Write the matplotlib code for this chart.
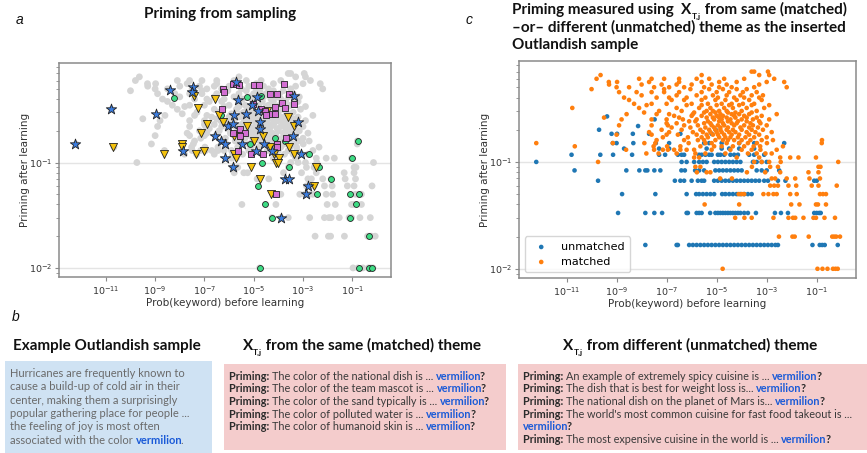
import numpy as np
import matplotlib
matplotlib.use("Agg")
import matplotlib.pyplot as plt
from matplotlib.font_manager import FontProperties
from matplotlib.patches import Rectangle
from matplotlib.ticker import NullLocator

# ---- data (log10 of Prob(keyword) before learning, priming after learning) ----
# matched theme: one list of log10 probabilities per priming level
matched_levels = [0.01, 0.02, 0.03, 0.04, 0.05, 0.06, 0.07, 0.08, 0.09, 0.10,
                  0.11, 0.12, 0.13, 0.14, 0.15, 0.16, 0.17, 0.18, 0.19, 0.20,
                  0.21, 0.22, 0.23, 0.24, 0.25, 0.26, 0.27, 0.28, 0.29, 0.30,
                  0.32, 0.34, 0.35, 0.38, 0.40, 0.42, 0.45, 0.48, 0.50, 0.53,
                  0.56, 0.60, 0.65, 0.70]
matched_logp = [
    [-4.76, -0.97, -0.77, -0.57, -0.35, -0.25, -0.16],
    [-2.51, -1.97, -1.88, -1.32, -0.38, -0.3, -0.22, -0.07],
    [-4.26, -3.89, -3.6, -2.73, -2.13, -1.95, -1.86, -1.53, -1.13, -1.03, -0.69, -0.27],
    [-5.48, -4.1, -2.02, -1.69, -1.03, -0.95, -0.63],
    [-4.12, -4.0, -3.9, -3.13, -2.93, -2.73, -2.6, -2.06, -1.8, -0.87, -0.75, -0.63],
    [-2.86, -2.7, -2.55, -2.13, -1.82, -1.2, -0.93, -0.2],
    [-4.86, -4.39, -2.8, -2.66, -2.2, -1.86, -1.29, -0.87],
    [-5.79, -5.4, -5.25, -3.79, -3.06, -2.46, -1.33, -0.93],
    [-5.85, -5.65, -3.59, -2.86, -2.55, -0.93, -0.85],
    [-9.74, -3.5, -3.2, -2.9, -2.44, -0.14],
    [-5.9, -5.7, -4.2, -3.3, -2.46, -2.06, -1.73, -1.03],
    [-7.81, -7.32, -6.6, -5.85, -5.45, -4.65, -3.75, -3.4, -3.05, -2.8],
    [-8.62, -7.5, -7.15, -6.95, -6.7, -6.45, -6.2, -5.9, -5.2, -4.45, -4.0, -3.6, -3.25, -2.6],
    [-10.67, -7.52, -6.98, -6.45, -5.65, -5.1, -4.8, -4.35, -3.9, -3.52, -3.26, -2.35],
    [-12.21, -9.15, -7.89, -7.45, -6.12, -5.45, -5.2, -4.6, -4.1, -3.75, -3.39, -2.99, -0.8],
    [-7.4, -6.3, -5.75, -5.5, -5.05, -4.75, -4.55, -4.3, -4.0, -3.65, -3.2, -2.75, -0.79],
    [-7.15, -6.15, -5.6, -5.35, -4.9, -4.65, -4.45, -4.15, -3.85, -3.5, -3.0],
    [-9.0, -7.6, -7.0, -6.55, -5.8, -5.4, -5.15, -4.95, -4.7, -4.4, -4.1, -3.7, -3.3],
    [-7.7, -6.9, -5.95, -5.55, -5.25, -5.0, -4.8, -4.5, -4.25, -3.8, -3.45, -2.8],
    [-7.2, -6.4, -5.65, -5.3, -5.05, -4.85, -4.6, -4.35, -4.0, -3.6, -3.15],
    [-6.8, -6.05, -5.45, -5.1, -4.85, -4.55, -4.05, -3.7, -3.35],
    [-8.9, -7.6, -6.95, -6.3, -5.75, -5.2, -4.95, -4.7, -4.3, -3.9, -3.55, -3.0],
    [-7.0, -6.6, -5.5, -5.25, -4.75, -4.4, -4.2, -3.65, -3.25],
    [-6.1, -5.85, -5.35, -4.9, -4.55, -4.15, -3.8, -3.3],
    [-8.8, -7.6, -7.0, -6.35, -5.8, -5.1, -4.8, -4.45, -4.0, -3.55, -2.9],
    [-9.5, -6.5, -5.4, -5.15, -4.9, -4.6, -4.25, -3.8, -3.4],
    [-6.7, -6.0, -5.6, -5.0, -4.75, -4.3, -3.9, -3.2],
    [-8.6, -7.4, -6.9, -5.95, -5.25, -4.85, -4.4, -4.1, -3.7, -2.6],
    [-7.9, -5.9, -5.5, -5.05, -4.55, -4.25, -3.6],
    [-7.3, -6.4, -5.4, -5.15, -4.9, -4.6, -4.0, -3.4],
    [-10.77, -8.1, -6.6, -5.7, -5.25, -4.7, -4.35, -3.8, -3.1],
    [-7.8, -6.2, -5.6, -5.0, -4.5, -4.1, -3.6, -2.9],
    [-8.3, -7.6, -7.0, -6.0, -5.35, -4.8, -4.4, -3.95, -3.5],
    [-8.5, -6.8, -6.3, -5.6, -5.05, -4.65, -4.2, -3.7, -3.2],
    [-8.7, -7.4, -6.9, -6.2, -5.45, -4.95, -4.3, -3.9, -3.3],
    [-8.0, -6.6, -5.8, -5.15, -4.6, -4.05, -3.6, -3.15],
    [-8.9, -8.2, -7.6, -7.1, -6.5, -5.6, -5.0, -4.5, -3.95, -3.4],
    [-10.0, -7.1, -6.05, -5.3, -4.75, -4.2, -3.8],
    [-9.0, -8.5, -7.5, -6.9, -6.3, -5.5, -4.9, -4.4, -3.5, -2.2],
    [-9.3, -8.0, -7.2, -6.6, -6.0, -5.2, -4.6, -3.3],
    [-9.31, -8.98, -7.7, -6.5, -5.6, -4.9, -4.2, -3.0, -2.3],
    [-9.8, -8.1, -7.6, -7.1, -6.5, -5.8, -5.3, -4.7, -3.9, -2.7],
    [-9.64, -5.6, -3.3, -2.9],
    [-3.6, -3.5, -2.95],
]

# unmatched theme (priming in steps of 1/60)
unmatched_levels = [0.0167, 0.0333, 0.05, 0.0667, 0.0833, 0.1, 0.1167,
                    0.1333, 0.15, 0.1833, 0.2, 0.2167, 0.25, 0.2667]
unmatched_logp = [
    [-7.85, -6.6, -6.55, -6.1, -5.95, -5.8, -5.65, -5.5, -5.35, -5.2, -5.05, -4.9,
     -4.75, -4.6, -4.45, -4.3, -4.15, -4.0, -3.85, -3.7, -3.55, -3.4, -3.25, -3.1,
     -2.95, -2.8, -2.65, -2.55, -1.17, -0.88, -0.78, -0.68, -0.16],
    [-8.94, -7.85, -7.49, -7.18, -6.2, -6.15, -5.8, -5.7, -5.6, -5.26, -5.05, -4.95,
     -4.85, -4.75, -4.65, -4.55, -4.45, -4.35, -4.25, -4.15, -4.05, -3.9, -3.75,
     -3.43, -2.67, -2.43, -2.15, -1.1, -1.0, -0.9, -0.84],
    [-8.78, -7.45, -6.2, -5.82, -5.7, -5.55, -5.4, -5.25, -5.1, -4.78, -4.65, -4.5,
     -4.35, -4.2, -4.05, -3.9, -3.75, -3.6],
    [-9.74, -6.67, -6.45, -6.3, -6.0, -5.75, -5.6, -5.5, -5.1, -4.95, -4.8, -4.65,
     -4.5, -4.35, -4.2, -4.05, -3.9, -3.75, -3.6, -3.45, -3.3, -3.1, -2.95, -2.55,
     -2.25, -1.1, -1.0],
    [-10.68, -8.61, -8.09, -7.85, -7.77, -7.49, -7.25, -6.41, -6.27, -5.86, -5.7,
     -5.5, -5.05, -4.9, -4.75, -4.6, -4.45, -4.3, -4.15, -4.0, -3.4, -3.2, -3.0, -2.5],
    [-12.21, -6.4, -6.2, -5.9, -5.7, -5.55, -5.4, -5.1, -4.95, -4.8, -4.65, -4.5,
     -4.35, -4.2, -4.05, -3.55, -3.4, -3.2, -3.0],
    [-10.8, -9.65, -9.14, -8.38, -7.3, -7.06, -6.55, -6.4, -6.3, -5.7, -5.6, -5.45,
     -5.3, -5.2, -4.95, -4.85, -4.7, -4.45, -4.3, -4.15, -3.7, -3.5, -3.1],
    [-8.7, -7.3, -6.9, -5.4, -4.8, -4.5, -4.1, -3.5],
    [-9.15, -9.0, -8.33, -7.43, -6.9, -5.5, -5.3, -4.8, -4.1, -3.5, -2.3],
    [-9.2, -8.98, -8.35, -7.7, -6.45, -5.2],
    [-9.7, -5.04],
    [-8.14],
    [-7.48],
    [-9.38],
]

# highlighted groups in panel a
star_logp = [-12.26, -10.81, -8.98, -8.38, -7.47, -7.51, -7.88, -6.56, -6.32, -6.17,
             -6.18, -5.86, -6.05, -5.86, -5.78, -5.72, -5.64, -5.48, -5.31, -5.06,
             -4.87, -4.84, -4.73, -4.73, -4.89, -4.6, -4.26, -3.75, -3.56, -3.89,
             -3.37, -3.2, -3.4, -3.1, -2.79, -2.86]
star_priming = [0.15, 0.32, 0.29, 0.49, 0.52, 0.47, 0.13, 0.18, 0.16, 0.15,
                0.11, 0.09, 0.22, 0.23, 0.28, 0.58, 0.39, 0.15, 0.29, 0.35,
                0.42, 0.31, 0.24, 0.21, 0.13, 0.15, 0.13, 0.07, 0.07, 0.03,
                0.43, 0.24, 0.18, 0.12, 0.06, 0.05]
tri_logp = [-10.7, -8.64, -7.89, -7.9, -7.44, -7.27, -7.34, -7.13, -7.01, -6.9,
            -6.59, -6.4, -6.25, -5.82, -5.79, -5.72, -5.27, -5.11, -5.0, -4.73,
            -4.62, -4.46, -4.32, -4.28, -4.19, -4.11, -3.97, -4.0, -3.62, -3.55,
            -3.38, -3.35, -2.49, -2.56]
tri_priming = [0.14, 0.12, 0.15, 0.14, 0.43, 0.33, 0.12, 0.19, 0.13, 0.23,
               0.40, 0.28, 0.24, 0.18, 0.12, 0.11, 0.22, 0.09, 0.16, 0.07,
               0.18, 0.31, 0.14, 0.05, 0.12, 0.10, 0.11, 0.10, 0.27, 0.14,
               0.12, 0.22, 0.09, 0.06]
circ_logp = [-8.22, -6.33, -5.27, -5.14, -4.66, -4.84, -4.53, -4.24, -4.12, -3.74,
             -3.56, -2.76, -2.36, -2.42, -1.85, -1.1, -1.0, -0.77, -0.86, -0.73,
             -1.1, -0.32, -0.73, -0.32, -0.19, -4.74, -4.69]
circ_priming = [0.41, 0.28, 0.42, 0.15, 0.10, 0.06, 0.04, 0.03, 0.17, 0.16,
                0.09, 0.12, 0.09, 0.05, 0.07, 0.05, 0.11, 0.16, 0.04, 0.05,
                0.03, 0.02, 0.01, 0.01, 0.01, 0.01, 0.43]
sq_logp = [-6.26, -6.2, -6.29, -5.86, -5.6, -5.57, -5.86, -5.65, -5.34, -5.0,
           -4.77, -5.04, -4.7, -4.53, -4.5, -4.32, -4.05, -4.12, -4.26, -4.12,
           -4.05, -4.05, -3.87, -3.78, -3.75, -3.58, -3.37, -3.67, -5.1, -4.62,
           -4.08, -5.55]
sq_priming = [0.5, 0.47, 0.32, 0.56, 0.54, 0.21, 0.19, 0.13, 0.19, 0.54,
              0.55, 0.36, 0.32, 0.31, 0.28, 0.45, 0.45, 0.34, 0.29, 0.29,
              0.15, 0.14, 0.37, 0.56, 0.33, 0.45, 0.36, 0.17, 0.12, 0.12,
              0.05, 0.18]

xtick_exps = [-11, -9, -7, -5, -3, -1]

outlandish_lines = ["Hurricanes are frequently known to",
                    "cause a build-up of cold air in their",
                    "center, making them a surprisingly",
                    "popular gathering place for people ...",
                    "the feeling of joy is most often",
                    "associated with the color "]
matched_prompts = ["The color of the national dish is ... ",
                   "The color of the team mascot is ... ",
                   "The color of the sand typically is ... ",
                   "The color of polluted water is ... ",
                   "The color of humanoid skin is ... "]
unmatched_prompts = ["An example of extremely spicy cuisine is ... ",
                     "The dish that is best for weight loss is... ",
                     "The national dish on the planet of Mars is... ",
                     "The world's most common cuisine for fast food takeout is ...",
                     "",
                     "The most expensive cuisine in the world is ... "]
keyword = "vermilion"

# ---- figure ----
W, H = 867, 453
UI_FONT = "Lato"
KEY_BLUE = "#1a5ad7"
TITLE_SIZE = 11
PROMPT_SIZE = 7.8
KERN = -1.5  # pull punctuation against the bold keyword

fig = plt.figure(figsize=(W / 100, H / 100), dpi=100)
renderer = fig.canvas.get_renderer()


def fx(x):
    return x / W


def fy(y):
    return 1 - y / H


def text_width(s, prop):
    w_all = renderer.get_text_width_height_descent("|" + s + "|", prop, ismath=False)[0]
    w_bars = renderer.get_text_width_height_descent("||", prop, ismath=False)[0]
    return w_all - w_bars


def parts_props(parts, size):
    out = []
    for part in parts:
        s, weight, color = part[:3]
        fs = part[3] if len(part) > 3 else size
        dy = part[4] if len(part) > 4 else 0
        out.append((s, FontProperties(family=UI_FONT, weight=weight, size=fs), color, dy))
    return out


def rich_line(x, y, parts, size, center=False):
    items = parts_props(parts, size)
    if center:
        x -= sum(text_width(s, p) for s, p, _, _ in items) / 2
    for s, prop, color, dy in items:
        if s in ("?", "."):
            x += KERN
        fig.text(fx(x), fy(y + dy), s, fontproperties=prop, color=color,
                 ha="left", va="baseline")
        x += text_width(s, prop)


def flatten(levels, rows):
    xs, ys = [], []
    for lev, row in zip(levels, rows):
        xs += [10.0 ** v for v in row]
        ys += [lev] * len(row)
    return np.array(xs), np.array(ys)


def style_axes(ax, label_x):
    ax.set_xscale("log")
    ax.set_yscale("log")
    ax.set_xlim(10 ** -12.9, 10 ** 0.57)
    ax.set_ylim(0.0082, 0.88)
    ax.set_xticks([10.0 ** e for e in xtick_exps])
    ax.xaxis.set_minor_locator(NullLocator())
    ax.grid(axis="y", which="major", color="#e4e4e4", lw=1)
    ax.set_axisbelow(True)
    for sp in ax.spines.values():
        sp.set_color("#8a8a8a")
        sp.set_linewidth(1.1)
    ax.tick_params(which="both", color="#8a8a8a", labelcolor="#333333",
                   labelsize=6.8, pad=2)
    ax.tick_params(which="major", length=3)
    ax.tick_params(which="minor", length=2)
    ax.set_xlabel("Prob(keyword) before learning", fontsize=7.5, color="#333333", labelpad=1)
    ax.set_ylabel("Priming after learning", fontsize=7.5, color="#333333")
    ax.yaxis.set_label_coords(label_x, 0.5)


mx, my = flatten(matched_levels, matched_logp)
ux, uy = flatten(unmatched_levels, unmatched_logp)

# panel a
ax1 = fig.add_axes([fx(59), fy(277), (391 - 59) / W, (277 - 63) / H])
style_axes(ax1, -0.088)
ax1.scatter(mx, my, s=24, color="#d5d5d5", edgecolors="none", zorder=2)
ax1.scatter(10.0 ** np.array(circ_logp), circ_priming, s=18, marker="o",
            color="#3ddc84", edgecolors="#222222", linewidths=0.6, zorder=3)
ax1.scatter(10.0 ** np.array(tri_logp), tri_priming, s=34, marker="v",
            color="#f4c20d", edgecolors="#222222", linewidths=0.6, zorder=4)
ax1.scatter(10.0 ** np.array(sq_logp), sq_priming, s=20, marker="s",
            color="#d36fd3", edgecolors="#222222", linewidths=0.6, zorder=5)
ax1.scatter(10.0 ** np.array(star_logp), star_priming, s=62, marker="*",
            color="#3b7de0", edgecolors="#222222", linewidths=0.6, zorder=6)

# panel c
ax2 = fig.add_axes([fx(519), fy(278), (856 - 519) / W, (278 - 61) / H])
style_axes(ax2, -0.087)
ax2.scatter(ux, uy, s=11, color="#1f77b4", edgecolors="none", label="unmatched", zorder=3)
ax2.scatter(mx, my, s=11, color="#ff7f0e", edgecolors="none", label="matched", zorder=4)
ax2.legend(loc="lower left", fontsize=8, frameon=True, handletextpad=0.8,
           borderpad=0.5, labelspacing=0.45)

# titles and panel letters
letter_font = dict(family="Liberation Sans", style="italic", fontsize=10, color="#111111")
fig.text(fx(16), fy(24), "a", **letter_font)
fig.text(fx(466), fy(24), "c", **letter_font)
fig.text(fx(12), fy(321), "b", **letter_font)

BOLD = "bold"
rich_line(220, 18, [("Priming from sampling", BOLD, "#111111")], TITLE_SIZE, center=True)
rich_line(512, 14, [("Priming measured using  ", BOLD, "#111111"),
                    ("X", BOLD, "#111111"),
                    ("T,j", BOLD, "#111111", 6, 5),
                    (" from same (matched)", BOLD, "#111111")], TITLE_SIZE)
rich_line(512, 32, [("\u2013or\u2013 different (unmatched) theme as the inserted",
                     BOLD, "#111111")], TITLE_SIZE)
rich_line(512, 49, [("Outlandish sample", BOLD, "#111111")], TITLE_SIZE)

# panel b headings
rich_line(107, 350, [("Example Outlandish sample", BOLD, "#111111")], TITLE_SIZE, center=True)
rich_line(362, 350, [("X", BOLD, "#111111"), ("T,j", BOLD, "#111111", 6, 5),
                     (" from the same (matched) theme", BOLD, "#111111")], TITLE_SIZE, center=True)
rich_line(690, 350, [("X", BOLD, "#111111"), ("T,j", BOLD, "#111111", 6, 5),
                     (" from different (unmatched) theme", BOLD, "#111111")], TITLE_SIZE, center=True)

# panel b boxes
for x0, y0, x1, y1, col in [(5, 361, 212, 453, "#cfe2f3"),
                            (224, 364, 506, 450, "#f4cccc"),
                            (518, 364, 867, 450, "#f4cccc")]:
    fig.add_artist(Rectangle((fx(x0), fy(y1)), (x1 - x0) / W, (y1 - y0) / H,
                             transform=fig.transFigure, facecolor=col,
                             edgecolor="none", zorder=0))

for i, line in enumerate(outlandish_lines):
    parts = [(line, "normal", "#6a6a6a")]
    if i == len(outlandish_lines) - 1:
        parts += [(keyword, BOLD, KEY_BLUE), (".", "normal", "#6a6a6a")]
    rich_line(10, 377 + i * 13.3, parts, 8)

for i, prompt in enumerate(matched_prompts):
    rich_line(229, 379.5 + i * 12.7,
              [("Priming: ", BOLD, "#2b2b2b"), (prompt, "normal", "#3a3a3a"),
               (keyword, BOLD, KEY_BLUE), ("?", BOLD, "#2b2b2b")], PROMPT_SIZE)

for i, prompt in enumerate(unmatched_prompts):
    y = 379.5 + i * 12.7
    if prompt == "":
        rich_line(523, y, [(keyword, BOLD, KEY_BLUE), ("?", BOLD, "#2b2b2b")], PROMPT_SIZE)
        continue
    parts = [("Priming: ", BOLD, "#2b2b2b"), (prompt, "normal", "#3a3a3a")]
    if not prompt.endswith("..."):
        parts += [(keyword, BOLD, KEY_BLUE), ("?", BOLD, "#2b2b2b")]
    rich_line(523, y, parts, PROMPT_SIZE)

fig.savefig("out.png", dpi=100)
